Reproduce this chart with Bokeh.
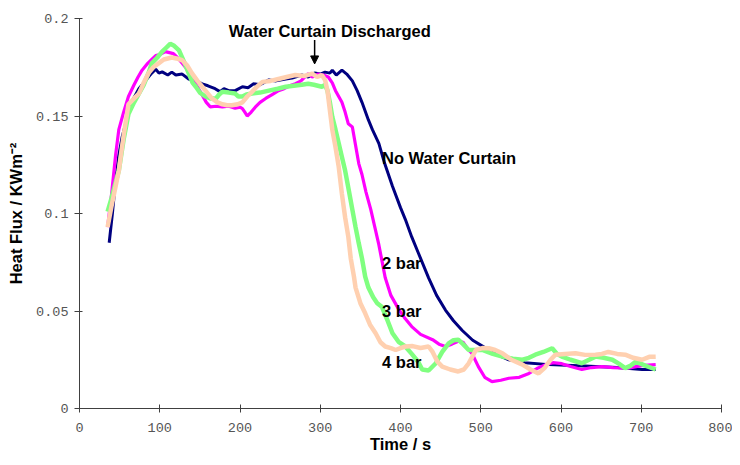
from bokeh.plotting import figure
from bokeh.models import Range1d, FixedTicker, Arrow, NormalHead, ColumnDataSource
from bokeh.core.properties import value
from bokeh.embed import file_html
from bokeh.resources import INLINE

# ---------------- data ----------------
nowc_t = [37, 41, 45, 49, 53, 60, 66, 74, 82, 90, 95, 99, 103, 110, 115, 120, 128, 136, 145, 153,
          160, 169, 175, 180, 186, 194, 203, 210, 217, 225, 236, 245, 257, 265, 277, 285, 293, 300,
          306, 312, 315, 320, 327, 333, 340, 346, 352, 360, 365, 373, 380, 390, 400, 406, 414, 422,
          435, 445, 456, 466, 477, 490, 502, 518, 535, 555, 585, 615, 643, 670, 701, 718]
nowc_q = [0.085, 0.100, 0.117, 0.130, 0.139, 0.150, 0.158, 0.164, 0.168, 0.172, 0.174, 0.172, 0.1726,
          0.171, 0.1725, 0.171, 0.1715, 0.169, 0.168, 0.1665, 0.1655, 0.164, 0.1625, 0.164, 0.163,
          0.163, 0.165, 0.1645, 0.1665, 0.166, 0.1685, 0.168, 0.169, 0.1695, 0.171, 0.170, 0.172,
          0.1715, 0.1725, 0.172, 0.1735, 0.171, 0.1735, 0.1715, 0.168, 0.163, 0.157, 0.148, 0.143,
          0.136, 0.126, 0.114, 0.103, 0.097, 0.088, 0.080, 0.067, 0.058, 0.0505, 0.045, 0.040, 0.035,
          0.032, 0.028, 0.025, 0.0235, 0.0225, 0.022, 0.0215, 0.021, 0.020, 0.020]

bar2_t = [35, 40, 45, 49, 55, 61, 68, 73, 78, 85, 90, 95, 100, 107, 112, 117, 122, 128, 134, 140,
          147, 153, 158, 163, 170, 178, 186, 194, 200, 203, 206, 209, 214, 219, 225, 232, 240, 248,
          255, 262, 269, 276, 285, 290, 297, 304, 310, 315, 319, 323, 327, 331, 335, 340, 344, 348,
          352, 357, 363, 368, 373, 381, 388, 398, 406, 414, 425, 440, 448, 456, 464, 472, 478, 483,
          489, 497, 505, 514, 525, 535, 548, 560, 570, 581, 590, 601, 612, 626, 638, 651, 665, 684,
          700, 718]
bar2_q = [0.093, 0.110, 0.130, 0.143, 0.152, 0.160, 0.166, 0.170, 0.1735, 0.177, 0.179, 0.181, 0.1815,
          0.183, 0.1825, 0.182, 0.180, 0.177, 0.174, 0.170, 0.165, 0.1607, 0.157, 0.1547, 0.155,
          0.1547, 0.155, 0.154, 0.1545, 0.1538, 0.152, 0.150, 0.152, 0.1545, 0.157, 0.159, 0.161,
          0.163, 0.164, 0.1655, 0.1666, 0.168, 0.1717, 0.170, 0.1715, 0.171, 0.170, 0.167, 0.163,
          0.160, 0.157, 0.152, 0.146, 0.1444, 0.135, 0.1256, 0.120, 0.111, 0.102, 0.093, 0.084,
          0.067, 0.058, 0.0507, 0.046, 0.042, 0.038, 0.0353, 0.033, 0.0318, 0.033, 0.0345, 0.034,
          0.031, 0.0283, 0.0215, 0.016, 0.0138, 0.0145, 0.0155, 0.016, 0.018, 0.0205, 0.0225,
          0.0235, 0.023, 0.0215, 0.020, 0.021, 0.0215, 0.021, 0.0207, 0.022, 0.0225]

bar3_t = [35, 40, 45, 49, 55, 61, 68, 74, 80, 86, 90, 97, 103, 108, 113, 118, 124, 130, 136, 141,
          145, 150, 157, 163, 170, 174, 178, 186, 194, 198, 203, 208, 215, 225, 236, 247, 257, 267,
          277, 285, 292, 302, 306, 309, 312, 315, 319, 323, 327, 331, 336, 340, 344, 348, 352, 356,
          360, 366, 371, 377, 383, 390, 398, 406, 414, 422, 427, 435, 444, 452, 460, 466, 472, 478,
          485, 493, 502, 515, 527, 540, 552, 560, 568, 578, 589, 595, 601, 612, 626, 635, 643, 653,
          664, 672, 680, 687, 693, 705, 718]
bar3_q = [0.101, 0.108, 0.116, 0.122, 0.138, 0.151, 0.157, 0.1615, 0.166, 0.172, 0.177, 0.180, 0.183,
          0.185, 0.187, 0.186, 0.1837, 0.178, 0.172, 0.167, 0.165, 0.162, 0.160, 0.159, 0.159, 0.161,
          0.1624, 0.162, 0.1615, 0.160, 0.160, 0.161, 0.1615, 0.162, 0.163, 0.164, 0.165, 0.1655,
          0.166, 0.1665, 0.166, 0.165, 0.166, 0.163, 0.157, 0.1496, 0.143, 0.136, 0.129, 0.122,
          0.111, 0.102, 0.093, 0.0847, 0.077, 0.0676, 0.062, 0.057, 0.054, 0.052, 0.046, 0.0386,
          0.034, 0.0318, 0.028, 0.024, 0.020, 0.0195, 0.0232, 0.029, 0.0334, 0.035, 0.0353, 0.033,
          0.030, 0.030, 0.030, 0.028, 0.0266, 0.0255, 0.025, 0.026, 0.0276, 0.029, 0.0309, 0.028,
          0.0266, 0.025, 0.0232, 0.025, 0.0266, 0.026, 0.025, 0.023, 0.0207, 0.022, 0.024, 0.022,
          0.020]

bar4_t = [35, 40, 45, 49, 55, 61, 68, 74, 80, 86, 92, 98.5, 105, 110, 115, 121, 128, 134, 140, 147,
          153, 159, 165, 172, 178, 184, 190, 197, 203, 209, 215, 221, 228, 238, 248, 258, 269, 280,
          290, 296, 302, 306, 309, 312, 315, 319, 323, 327, 331, 335, 338, 342, 344, 350, 356, 362,
          369, 375, 381, 388, 394, 400, 406, 415, 425, 435, 440, 446, 452, 462, 472, 479, 485, 490,
          494, 502, 510, 518, 527, 538, 552, 562, 572, 580, 587, 593, 605, 618, 630, 643, 651, 659,
          670, 680, 690, 701, 710, 718]
bar4_q = [0.093, 0.104, 0.114, 0.122, 0.140, 0.156, 0.159, 0.1615, 0.167, 0.172, 0.175, 0.177, 0.179,
          0.1795, 0.180, 0.1795, 0.1786, 0.176, 0.172, 0.168, 0.165, 0.162, 0.159, 0.157, 0.156,
          0.1555, 0.1555, 0.156, 0.157, 0.160, 0.1624, 0.165, 0.1675, 0.168, 0.169, 0.170, 0.171,
          0.1705, 0.1717, 0.170, 0.171, 0.1685, 0.163, 0.153, 0.143, 0.134, 0.124, 0.110, 0.098,
          0.088, 0.077, 0.0676, 0.062, 0.054, 0.0488, 0.043, 0.0386, 0.034, 0.0318, 0.031, 0.030,
          0.031, 0.0318, 0.032, 0.031, 0.0318, 0.029, 0.024, 0.0215, 0.020, 0.019, 0.020, 0.0232,
          0.027, 0.030, 0.031, 0.0309, 0.030, 0.0283, 0.025, 0.0225, 0.020, 0.018, 0.021, 0.025,
          0.0276, 0.028, 0.0283, 0.0275, 0.0276, 0.028, 0.029, 0.028, 0.0276, 0.026, 0.025, 0.0265,
          0.0266]

x_ticks = [0, 100, 200, 300, 400, 500, 600, 700, 800]
y_ticks = [0, 0.05, 0.1, 0.15, 0.2]
y_tick_labels = ["0", "0.05", "0.1", "0.15", "0.2"]

series_labels = ["No Water Curtain", "2 bar", "3 bar", "4 bar"]
label_t = [377, 377, 377, 377]
label_q = [0.1286, 0.0748, 0.0502, 0.0241]

title_text = "Water Curtain Discharged"
title_t, title_q = 186, 0.1934
arrow_t, arrow_q0, arrow_q1 = 293, 0.189, 0.1767

# ---------------- figure ----------------
p = figure(width=732, height=457, output_backend="svg", toolbar_location=None,
           x_range=Range1d(0, 800), y_range=Range1d(0, 0.2),
           min_border_left=79, min_border_right=11, min_border_top=18, min_border_bottom=49)
p.outline_line_color = None
p.xgrid.visible = False
p.ygrid.visible = False
p.background_fill_color = "white"

p.line(nowc_t, nowc_q, line_color="#000080", line_width=3)
p.line(bar2_t, bar2_q, line_color="#FF00FF", line_width=3.2)
p.line(bar3_t, bar3_q, line_color="#80FF80", line_width=4.5)
p.line(bar4_t, bar4_q, line_color="#FFD0B0", line_width=4.5)

bold = dict(text_font=value("Liberation Sans"), text_font_style="bold",
            text_font_size="16.5px", text_color="black")
src = ColumnDataSource(dict(x=label_t, y=label_q, t=series_labels))
p.text(x="x", y="y", text="t", source=src, text_align="left", text_baseline="alphabetic", **bold)
p.text(x=[title_t], y=[title_q], text=[title_text], text_align="left",
       text_baseline="alphabetic", **bold)

p.add_layout(Arrow(end=NormalHead(size=8, fill_color="black", line_color="black"),
                   x_start=arrow_t, y_start=arrow_q0, x_end=arrow_t, y_end=arrow_q1,
                   line_color="black", line_width=1.5))

for ax in (p.xaxis[0], p.yaxis[0]):
    ax.axis_line_color = "#404040"
    ax.major_tick_line_color = "#404040"
    ax.minor_tick_line_color = None
    ax.major_label_text_font = "Liberation Mono"
    ax.major_label_text_font_size = "13.5px"
    ax.major_label_text_color = "#555555"
    ax.axis_label_text_font = "Liberation Sans"
    ax.axis_label_text_font_style = "bold"
    ax.axis_label_text_font_size = "16.5px"
    ax.axis_label_text_color = "black"

p.xaxis.ticker = FixedTicker(ticks=x_ticks)
p.yaxis.ticker = FixedTicker(ticks=y_ticks)
p.yaxis.major_label_overrides = {t: l for t, l in zip(y_ticks, y_tick_labels)}
p.xaxis.major_tick_in = 4
p.xaxis.major_tick_out = 4
p.yaxis.major_tick_in = 3
p.yaxis.major_tick_out = 5
p.xaxis.major_label_standoff = 10
p.yaxis.major_label_standoff = 6
p.xaxis.axis_label = "Time / s"
p.yaxis.axis_label = "Heat Flux / KWm\u207b\u00b2"
p.xaxis.axis_label_standoff = 0
p.yaxis.axis_label_standoff = 8

open("out.html", "w").write(file_html(p, INLINE))
